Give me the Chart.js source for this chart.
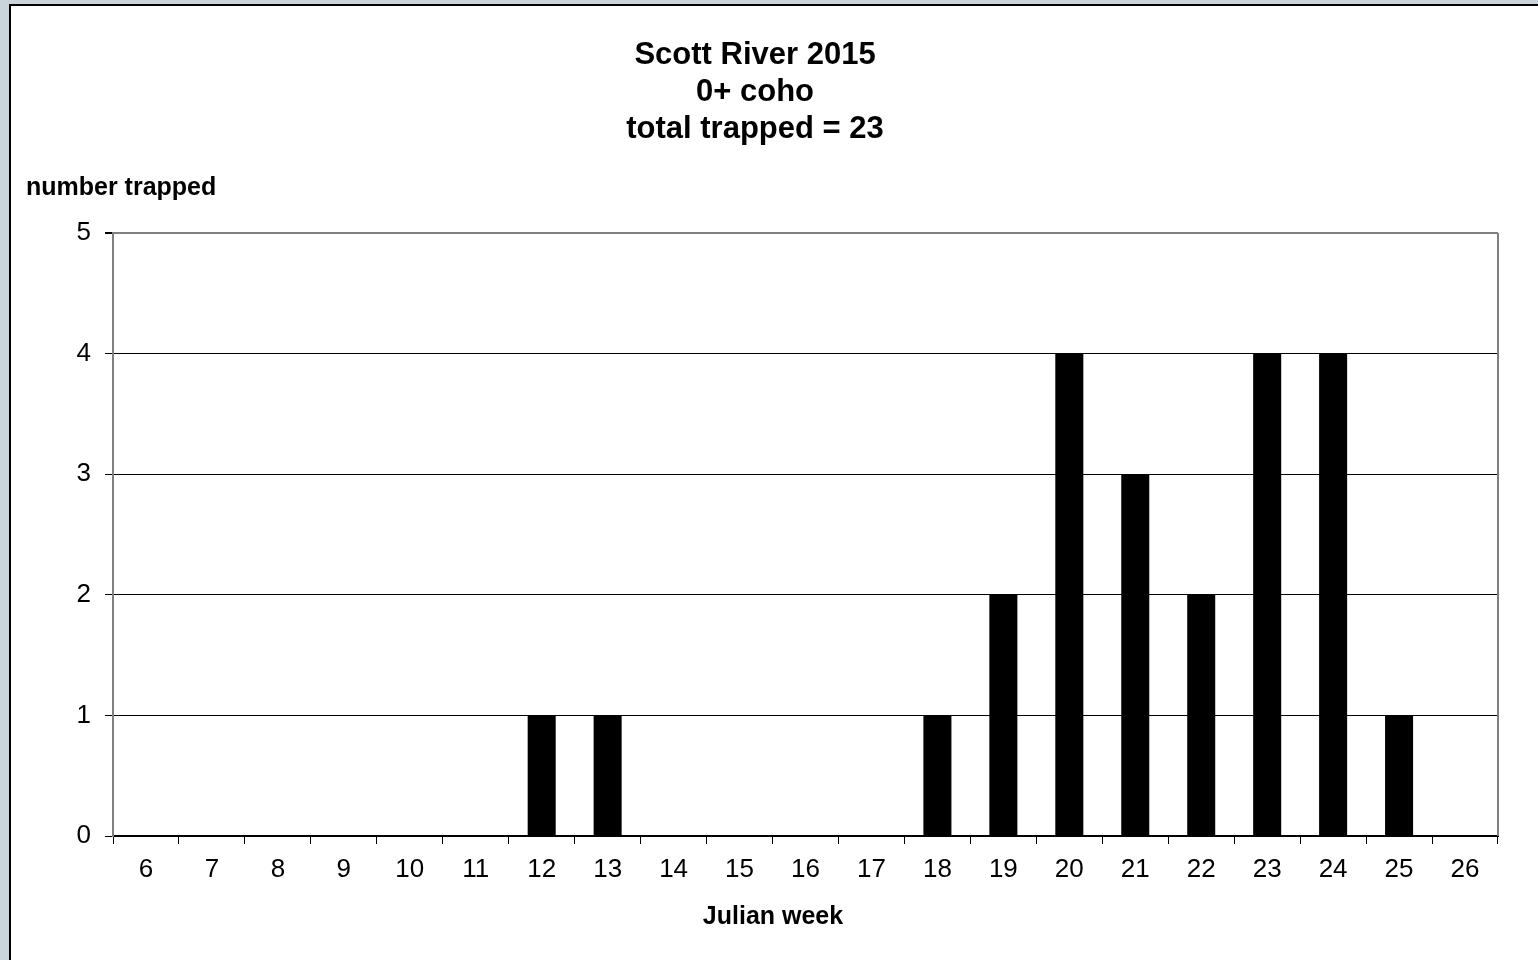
<!DOCTYPE html>
<html>
<head>
<meta charset="utf-8">
<script src="https://cdn.jsdelivr.net/npm/chart.js@4"></script>
<style>
  html, body { margin: 0; padding: 0; width: 1538px; height: 960px; overflow: hidden; background: #c9d4db; }
  #panel { position: absolute; left: 9px; top: 4px; right: 0; bottom: 0; background: #fff;
           border-left: 2px solid #000; border-top: 2px solid #000; }
  #wrap { position: absolute; left: 0; top: 0; width: 1538px; height: 960px; }
</style>
</head>
<body>
<div id="panel"></div>
<div id="wrap"><canvas id="c" width="1538" height="960"></canvas></div>
<script>
const weeks = ['6','7','8','9','10','11','12','13','14','15','16','17','18','19','20','21','22','23','24','25','26'];
const trapped = [0,0,0,0,0,0,1,1,0,0,0,0,1,2,4,3,2,4,4,1,0];
const titleLines = ['Scott River 2015', '0+ coho', 'total trapped = 23'];
const yAxisTitle = 'number trapped';
const xAxisTitle = 'Julian week';

const FONT = '"Liberation Sans", Arial, sans-serif';

const textPlugin = {
  id: 'texts',
  afterDraw(chart) {
    const ctx = chart.ctx;
    const a = chart.chartArea;
    ctx.save();
    ctx.strokeStyle = '#808080';
    ctx.lineWidth = 2;
    ctx.beginPath();
    ctx.moveTo(a.right, a.top);
    ctx.lineTo(a.right, a.bottom);
    ctx.stroke();
    ctx.fillStyle = '#000';
    ctx.textAlign = 'center';
    ctx.textBaseline = 'middle';
    ctx.font = 'bold 31px ' + FONT;
    titleLines.forEach((t, i) => ctx.fillText(t, 755, 55 + i * 37));
    ctx.font = 'bold 25px ' + FONT;
    ctx.textAlign = 'left';
    ctx.fillText(yAxisTitle, 26, 188);
    ctx.textAlign = 'center';
    ctx.fillText(xAxisTitle, 773, 917);
    ctx.restore();
  }
};

new Chart(document.getElementById('c'), {
  type: 'bar',
  data: {
    labels: weeks,
    datasets: [{
      data: trapped,
      backgroundColor: '#000',
      borderColor: '#000',
      borderWidth: 0,
      categoryPercentage: 1.0,
      barPercentage: 0.425
    }]
  },
  options: {
    responsive: false,
    animation: false,
    devicePixelRatio: 1,
    layout: { padding: { top: 233, right: 40, left: 0, bottom: 0 } },
    plugins: { legend: { display: false }, title: { display: false }, tooltip: { enabled: false } },
    scales: {
      x: {
        grid: { display: true, drawOnChartArea: false, drawTicks: true, tickLength: 8, color: '#000', offset: true },
        border: { display: true, color: '#000', width: 2 },
        ticks: { color: '#000', font: { family: FONT, size: 26 }, padding: 10, maxRotation: 0, autoSkip: false },
        afterFit(scale) { scale.height = 960 - 836; }
      },
      y: {
        min: 0, max: 5,
        grid: {
          color: (c) => (c.tick && c.tick.value === 5) ? '#808080' : '#000',
          tickColor: '#000',
          lineWidth: (c) => (c.tick && c.tick.value === 5) ? 2 : 1,
          tickLength: 8,
          drawTicks: true
        },
        border: { display: true, color: '#808080', width: 2 },
        ticks: { stepSize: 1, color: '#000', font: { family: FONT, size: 26 }, padding: 14 },
        afterFit(scale) { scale.width = 113; }
      }
    }
  },
  plugins: [textPlugin]
});
</script>
</body>
</html>
